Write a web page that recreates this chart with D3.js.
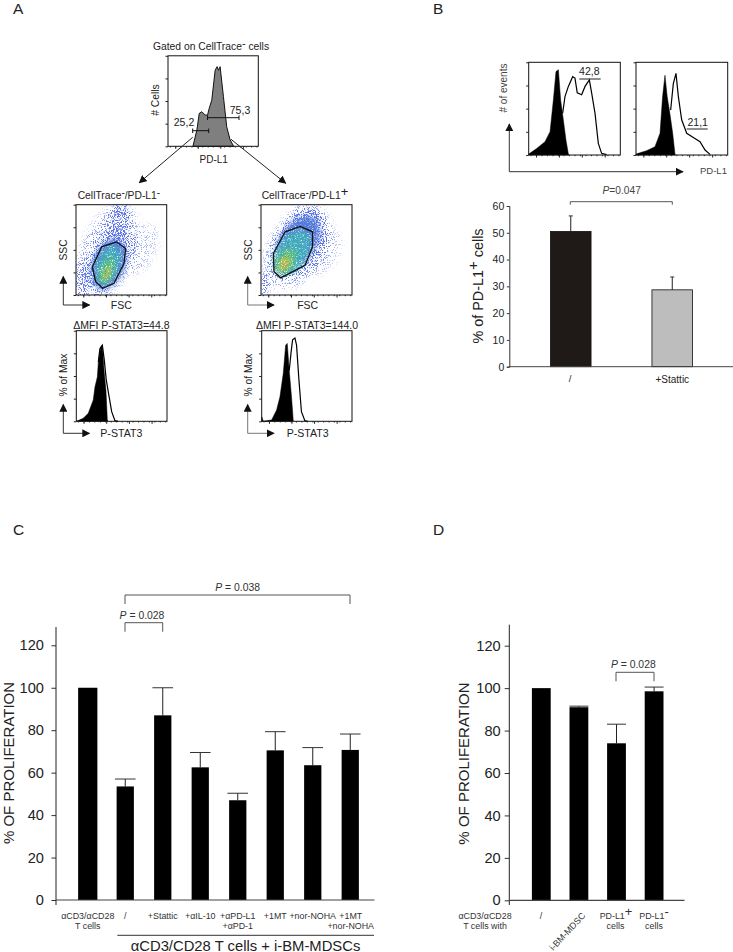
<!DOCTYPE html>
<html><head><meta charset="utf-8">
<script src="https://cdn.jsdelivr.net/npm/d3@7"></script>
<style>html,body{margin:0;background:#fff}svg{display:block}text{font-family:"Liberation Sans",Arial,sans-serif;fill:#222}</style>
</head><body><svg id="c" width="733" height="952"></svg>
<script>
// ---- Panel C data
const cCategories=["ctrl","none","stattic","il10","pd","mt","noha","mtnoha"];
const cValues=[100,53.5,87,62.5,47,70.5,63.5,70.7];
const cErrTops=[null,57,100,69.5,50.3,79.3,71.8,78.2];
const cLabels=[["αCD3/αCD28","T cells"],["/"],["+Stattic"],["+αIL-10"],["+αPD-L1","+αPD-1"],["+1MT"],["+nor-NOHA"],["+1MT","+nor-NOHA"]];
// ---- Panel D data
const dCategories=["none","bm","pos","neg"];
const dValues=[100,91,74,98.5];
const dErrTops=[null,91.5,83,100.5];
// ---- Panel B data
const bCategories=["/","+Stattic"];
const bValues=[50.5,28.7];
const bErrTops=[56.3,33.5];
const yTicksProlif=[0,20,40,60,80,100,120];
const yTicksB=[0,10,20,30,40,50,60];
// ---- Histograms: [x%, y%] inside each flow frame
const histTop=[[27.6,0],[32,18],[34.6,36.4],[37.5,38.2],[41.2,34.5],[43.8,34.5],[45.6,41.9],[48.5,51],[52.2,84],[54.4,88],[55.9,84],[57.7,88],[61.4,54.8],[65,21.7],[68.8,7],[72.4,.7],[73,0]];
const statLeftFill=[[0,0],[7.7,3.3],[13.2,8.8],[18.7,23.5],[20.6,38],[23.2,49],[24.3,65.5],[27,82],[28.7,84],[30.6,56],[32.7,34],[34.2,1.5],[35,0]];
const statLeftOpen=[[24.3,65.5],[26,80],[28.7,84],[30.8,68],[33,46],[35.5,31],[39,10.6],[42.6,.7],[46,0]];
const statRightFill=[[0,5],[1.8,0],[11,1.5],[16.5,12.5],[20.2,27],[23.9,53],[26.5,84],[28.3,86],[30.5,56],[33,27],[35,0]];
const statRightOpen=[[30.5,56],[32.4,75],[34.2,90],[36.8,92],[38.6,84],[41.2,46],[44,10.6],[47.8,.7],[51,0]];
const b1Fill=[[0,1],[8.7,7],[17.8,14.4],[23.3,25],[26.9,59],[29.8,90],[32.4,92],[34.9,59],[37.8,38],[40.7,16],[43.3,1],[44,0]];
const b1Open=[[37.1,45],[39.6,63],[43.3,74],[48,84.5],[50.5,83],[53,67],[57.8,65],[61.5,74],[66.2,81],[68.7,67],[72.4,45],[76,12.6],[79.6,1.8],[85,.4]];
const b2Fill=[[0,1],[11.6,4.7],[20.7,9],[26.2,23.4],[29,63],[31.6,86],[34,63],[36.9,45],[40,23.4],[42.5,1],[43,0]];
const b2Open=[[37.8,48.6],[40.7,77],[43.6,88],[46.2,63],[49.8,38],[55.3,23.4],[62.5,19],[69.8,14.4],[75.3,5.4],[80.7,.7]];
// ---- Scatter gates and density blobs [cx%,cy%,rx%,ry%,tilt°,colour,opacity]
const gateLeft=[[18,31],[28.3,53.3],[44.8,58.8],[54.7,51.5],[52.9,34.9],[41.9,12.9],[29.4,7.4],[21.7,14.7]];
const gateRight=[[13.6,46],[26.5,70],[43,76],[56.6,70],[56.6,53.5],[48.5,33],[21.7,19],[14.3,25.7]];
const haloLeft=[[34,46,30,58,22,"#000",.3],[35,42,19,40,22,"#000",.4],[47,76,11,28,8,"#000",.48],[6,13,4.5,22,8,"#000",.62],[72,50,16,30,25,"#000",.22]];
const coreLeft=[[36,34,18,29,20,"#4f78d6",.95],[35.5,33,12.5,23,20,"#3fb0b8",.95],[34,27,7,15,20,"#52c07a",1],[34,24,3.5,8,20,"#b8c840",.9]];
const haloRight=[[40,52,32,50,32,"#000",.3],[41,56,24,42,32,"#000",.42],[4,10,4.5,15,6,"#000",.6],[50,88,18,12,0,"#000",.32],[72,48,15,26,25,"#000",.2]];
const coreRight=[[40,58,20,33,33,"#4f78d6",.95],[34,47,17,28,33,"#3fb0b8",.95],[27,37,10,16,30,"#52c07a",1],[26,35,5,8,25,"#c8c838",1],[25,34,2.2,3.2,25,"#e09a30",.85]];
const ticksFlow=[0,25,50,75,100];

const svg=d3.select("#c");
const defs=svg.append("defs");
defs.append("marker").attr("id","ah").attr("viewBox","0 0 10 10").attr("refX",9).attr("refY",5)
  .attr("markerWidth",8).attr("markerHeight",8).attr("markerUnits","userSpaceOnUse").attr("orient","auto")
  .append("path").attr("d","M0,0L10,5L0,10Z").attr("fill","#111");
// Stipple: dots appear where blurred blob density beats a noise field
const sp=defs.append("filter").attr("id","speck").attr("x","-30%").attr("y","-30%").attr("width","160%").attr("height","160%").attr("color-interpolation-filters","sRGB");
sp.append("feGaussianBlur").attr("in","SourceGraphic").attr("stdDeviation",3.5).attr("result","b");
sp.append("feTurbulence").attr("type","fractalNoise").attr("baseFrequency",1.1).attr("numOctaves",2).attr("seed",7).attr("result","n");
sp.append("feColorMatrix").attr("in","n").attr("type","matrix").attr("values","0 0 0 0 0  0 0 0 0 0  0 0 0 0 0  0 0 0 3.4 -1.2").attr("result","m");
sp.append("feComposite").attr("in","b").attr("in2","m").attr("operator","arithmetic").attr("k1",0).attr("k2",1).attr("k3",1).attr("k4",-1).attr("result","r");
sp.append("feColorMatrix").attr("in","r").attr("type","matrix").attr("values","0 0 0 0 .36  0 0 0 0 .45  0 0 0 0 .92  0 0 0 2.4 0").attr("result","d");
sp.append("feGaussianBlur").attr("in","d").attr("stdDeviation",.45);
const so=defs.append("filter").attr("id","soft").attr("x","-40%").attr("y","-40%").attr("width","180%").attr("height","180%").attr("color-interpolation-filters","sRGB");
so.append("feGaussianBlur").attr("in","SourceGraphic").attr("stdDeviation",2.6).attr("result","b");
so.append("feTurbulence").attr("type","fractalNoise").attr("baseFrequency",.8).attr("numOctaves",2).attr("seed",3).attr("result","n");
so.append("feColorMatrix").attr("in","n").attr("type","matrix").attr("values","0 0 0 0 0  0 0 0 0 0  0 0 0 0 0  0 0 0 3 -.55").attr("result","m");
so.append("feComposite").attr("in","b").attr("in2","m").attr("operator","in");

function txt(x,y,s,size,opt={}){
  const t=svg.append("text").attr("x",x).attr("y",y).attr("font-size",size)
    .attr("text-anchor",opt.anchor||"middle").style("fill",opt.fill||"#222");
  if(opt.rot!==undefined)t.attr("transform",`rotate(${opt.rot} ${x} ${y})`);
  // parts: strings, or [text,"it"] or [text,0,size,lift]
  let back=0;
  (Array.isArray(s)?s:[s]).forEach(p=>{
    if(typeof p==="string"){const q=t.append("tspan").text(p);if(back)q.attr("dy",back);back=0;}
    else if(p[1]==="it")t.append("tspan").attr("font-style","italic").text(p[0]);
    else{const l=p[3]||3.5;t.append("tspan").attr("dy",back-l).attr("font-size",p[2]||size).text(p[0]);back=l;}
  });
  return t;
}
function line(x1,y1,x2,y2,stroke="#333",w=1){return svg.append("line").attr("x1",x1).attr("y1",y1).attr("x2",x2).attr("y2",y2).attr("stroke",stroke).attr("stroke-width",w);}
function bracket(x1,x2,y,d){svg.append("path").attr("d",d3.line()([[x1,y+d],[x1,y],[x2,y],[x2,y+d]])).attr("fill","none").attr("stroke","#555").attr("stroke-width",1);}
function flowFrame(x0,x1,y0,y1){
  const x=d3.scaleLinear([0,100],[x0,x1]),y=d3.scaleLinear([0,100],[y1,y0]);
  return {x,y,draw(){
    svg.append("rect").attr("x",x0).attr("y",y0).attr("width",x1-x0).attr("height",y1-y0).attr("fill","none").attr("stroke","#111").attr("stroke-width",1);
    const a=svg.append("g").attr("transform",`translate(${x0},0)`).call(d3.axisLeft(y).tickValues(ticksFlow).tickSize(2.5).tickFormat(""));
    const b=svg.append("g").attr("transform",`translate(0,${y1})`).call(d3.axisBottom(x).tickValues(ticksFlow.slice(0,-1).map(v=>v+8)).tickSize(2.5).tickFormat(""));
    const c=svg.append("g").attr("transform",`translate(0,${y1})`).call(d3.axisBottom(x).tickValues(d3.range(2,100,6)).tickSize(1.2).tickFormat(""));
    [a,b,c].forEach(g=>g.select(".domain").remove());
    [a,b,c].forEach(g=>g.selectAll("line").attr("stroke","#222"));
  }};
}
const area=f=>d3.area().x(d=>f.x(d[0])).y0(f.y(0)).y1(d=>f.y(d[1]));
const ln=f=>d3.line().x(d=>f.x(d[0])).y(d=>f.y(d[1]));
function hist(f,fill,open){
  if(open)svg.append("path").attr("d",ln(f)(open)).attr("fill","none").attr("stroke","#000").attr("stroke-width",1.2);
  svg.append("path").attr("d",area(f)(fill)).attr("fill","#000").attr("stroke","#000").attr("stroke-width",.5);
}
function axesArrow(x,yTop,yBot,xEnd,col="#555"){
  line(x,yBot,x,yTop,col,1).attr("marker-end","url(#ah)");
  line(x,yBot,xEnd,yBot,col,1).attr("marker-end","url(#ah)");
}

// Panel letters
txt(13,14,"A",15.5,{anchor:"start"});txt(433,14,"B",15.5,{anchor:"start"});
txt(13,535,"C",15.5,{anchor:"start"});txt(433,535,"D",15.5,{anchor:"start"});

// ---- Panel A: top histogram
txt(153,50,["Gated on CellTrace",["-",0,11,3]," cells"],10.3,{anchor:"start"});
const fT=flowFrame(168,258.3,55.8,146.3);
svg.append("path").attr("d",area(fT)(histTop)).attr("fill","#7f7f7f").attr("stroke","#111").attr("stroke-width",1);
fT.draw();
txt(155,100,"# Cells",10.3,{rot:-90}).attr("dy",3.5);
txt(213.7,162.5,"PD-L1",10);
txt(184,126,"25,2",10.5);txt(240,114,"75,3",10.5);
line(192.7,130.7,208.7,130.7,"#111");line(192.7,128.5,192.7,133,"#111");line(208.7,128.5,208.7,133,"#111");
line(207.5,117.7,239,117.7,"#111");line(207.5,115.5,207.5,120,"#111");line(239,115.5,239,120,"#111");
line(192.7,137.3,139.3,182.7,"#222").attr("marker-end","url(#ah)");
line(231,139.3,285.7,183.3,"#222").attr("marker-end","url(#ah)");

// scatter plots
function scatter(id,x0,x1,y0,y1,halo,core,gate){
  const f=flowFrame(x0,x1,y0,y1);
  defs.append("clipPath").attr("id",id).append("rect").attr("x",x0).attr("y",y0).attr("width",x1-x0).attr("height",y1-y0);
  const g=svg.append("g").attr("clip-path",`url(#${id})`);
  const blob=(sel,data,filter)=>sel.append("g").attr("filter",`url(#${filter})`).selectAll("ellipse").data(data).join("ellipse")
    .attr("cx",d=>f.x(d[0])).attr("cy",d=>f.y(d[1])).attr("rx",d=>f.x(d[2])-f.x(0)).attr("ry",d=>f.y(0)-f.y(d[3]))
    .attr("transform",d=>`rotate(${d[4]} ${f.x(d[0])} ${f.y(d[1])})`).attr("fill",d=>d[5]).attr("opacity",d=>d[6]);
  blob(g,halo,"speck");
  blob(g,core,"soft");
  f.draw();
  svg.append("path").attr("d",ln(f).curve(d3.curveLinearClosed)(gate)).attr("fill","none").attr("stroke","#111").attr("stroke-width",1.3);
}
txt(77.7,199.3,["CellTrace",["-",0,10,3],"/PD-L1",["-",0,10,3]],10.3,{anchor:"start"});
txt(261.7,199.3,["CellTrace",["-",0,10,3],"/PD-L1",["+",0,13,3]],10.3,{anchor:"start"});
scatter("s1",76,166.7,204.7,295,haloLeft,coreLeft,gateLeft);
scatter("s2",261,352,204.7,295,haloRight,coreRight,gateRight);
[[63.5,121.3],[248,307.7]].forEach(([a,b])=>{
  txt(a+3.5,250,"SSC",10.3,{rot:-90});txt(b,309,"FSC",10.5);
  txt(a+3.5,375,"% of Max",10.3,{rot:-90});txt(b,436.7,"P-STAT3",10.6);
});
axesArrow(63.3,276.5,305,89.5,"#333");axesArrow(247.7,276.5,305,274,"#777");
axesArrow(63.3,404.5,433.3,89.5,"#333");axesArrow(247.7,404.5,433.3,274,"#777");

txt(73.3,328.7,"ΔMFI P-STAT3=44.8",10.5,{anchor:"start"});
txt(256,328.7,"ΔMFI P-STAT3=144.0",10.5,{anchor:"start"});
const fL=flowFrame(76.3,167,330.7,421.3),fR=flowFrame(261.7,352,330.7,421.3);
hist(fL,statLeftFill,statLeftOpen);fL.draw();
hist(fR,statRightFill,statRightOpen);fR.draw();

// ---- Panel B
const fB1=flowFrame(528.7,620.3,62.3,155),fB2=flowFrame(636,727.7,62.3,155);
hist(fB1,b1Fill,b1Open);fB1.draw();hist(fB2,b2Fill,b2Open);fB2.draw();
txt(589.3,75,"42,8",10.5);line(579.3,79,600.7,79,"#222");
txt(697.7,126,"21,1",10.5);line(686.7,129,707.7,129,"#222");
txt(509.3,88,"# of events",10,{rot:-90,fill:"#444"}).attr("dy",-2);
txt(700,174,"PD-L1",9.5,{anchor:"start",fill:"#444"});
axesArrow(509.3,124,171.7,683,"#333");
txt(621.7,194,[["P","it"],"=0.047"],10.2,{fill:"#444"});
bracket(570.3,672.3,201.7,3);

const yB=d3.scaleLinear([0,60],[366.7,206]);
const xB=d3.scaleBand(bCategories,[520,723]).paddingInner(.6).paddingOuter(.3);
function errs(x,y,cats,tops,vals,cap){
  cats.forEach((c,i)=>{ if(tops[i]==null)return;
    const cx=x(c)+x.bandwidth()/2;
    line(cx,y(vals[i]),cx,y(tops[i]),"#222",1);line(cx-cap,y(tops[i]),cx+cap,y(tops[i]),"#333",1);
  });
}
errs(xB,yB,bCategories,bErrTops,bValues,2);
svg.append("g").selectAll("rect").data(bValues).join("rect")
  .attr("x",(d,i)=>xB(bCategories[i])).attr("width",xB.bandwidth()).attr("y",d=>yB(d)).attr("height",d=>yB(0)-yB(d))
  .attr("fill",(d,i)=>["#1f1a17","#bdbdbd"][i]).attr("stroke","#111").attr("stroke-width",.8);
function yAxis(y,ticks,x,size,tickLen,pad){
  const g=svg.append("g").attr("transform",`translate(${x},0)`).call(d3.axisLeft(y).tickValues(ticks).tickSize(tickLen).tickPadding(pad));
  g.selectAll("text").attr("font-size",size).style("font-family",'"Liberation Sans"').style("fill","#222");
  g.selectAll("line,.domain").attr("stroke","#333");
  return g;
}
yAxis(yB,yTicksB,509.3,10.5,2.5,2.5);
line(509.3,366.7,733,366.7,"#444",1);
txt(478,286,["% of PD-L1",["+",0,15,5]," cells"],14.4,{rot:-90}).attr("dy",5);
txt(570,381.7,"/",9.5);txt(672.3,383,"+Stattic",10);

// ---- Panel C
const yC=d3.scaleLinear([0,120],[900,645.3]);
const xC=d3.scaleBand(cCategories,[69,369]).paddingInner(.54).paddingOuter(.27);
function bars(x,y,cats,vals,widen){
  svg.append("g").selectAll("rect").data(vals).join("rect")
    .attr("x",(d,i)=>x(cats[i])-(i===0?widen:0)).attr("width",(d,i)=>x.bandwidth()+(i===0?2*widen:0))
    .attr("y",d=>y(d)).attr("height",d=>y(0)-y(d)).attr("fill","#000");
}
errs(xC,yC,cCategories,cErrTops,cValues,10.3);
bars(xC,yC,cCategories,cValues,1);
function prolifAxis(y,x,top,xEnd,pad){
  const g=yAxis(y,yTicksProlif,x,14.6,4.6,pad);
  g.select(".domain").remove();
  line(x,top,x,905,"#222",1);
  line(x,y(0),xEnd,y(0),"#444",1.2);
}
prolifAxis(yC,56,627,374.5,7.5);
txt(13.6,763,"% OF PROLIFERATION",15,{rot:-90});
txt(237.7,590.7,[["P","it"]," = 0.038"],10.4,{fill:"#333"});bracket(125,350,595,9);
txt(142,618.7,[["P","it"]," = 0.028"],10.4,{fill:"#333"});bracket(125,162.7,622.7,9);
cLabels.forEach((ls,i)=>{
  const cx=xC(cCategories[i])+xC.bandwidth()/2+(ls.length>1&&i===7?.5:0);
  ls.forEach((s,j)=>txt(cx,918.7+j*10,s,8.9,{fill:"#333"}));
});
line(117.3,935.3,374,935.3,"#333",1);
txt(245.5,950.5,"αCD3/CD28 T cells + i-BM-MDSCs",14.8);

// ---- Panel D
const yD=d3.scaleLinear([0,120],[900.3,645.7]);
const xD=d3.scaleBand(dCategories,[522.5,672.9]).paddingInner(.5).paddingOuter(.25);
errs(xD,yD,dCategories,dErrTops,dValues,9.5);
bars(xD,yD,dCategories,dValues,0);
prolifAxis(yD,509.3,624.7,684.5,4);
txt(469,763.5,"% OF PROLIFERATION",15,{rot:-90});
txt(633.3,668.3,[["P","it"]," = 0.028"],10.4,{fill:"#333"});bracket(616,654,672.3,9);
txt(485,919,"αCD3/αCD28",8.9,{fill:"#333"});txt(485,929,"T cells with",8.9,{fill:"#333"});
txt(541,919,"/",8.9,{fill:"#333"});
txt(586,916,"i-BM-MDSC",9,{rot:-47,anchor:"end",fill:"#333"});
txt(616,919,["PD-L1",["+",0,13,3]],8.9,{fill:"#333"});txt(615.5,929,"cells",8.9,{fill:"#333"});
txt(654,919,["PD-L1",["-",0,13,3]],8.9,{fill:"#333"});txt(654,929,"cells",8.9,{fill:"#333"});
</script></body></html>
